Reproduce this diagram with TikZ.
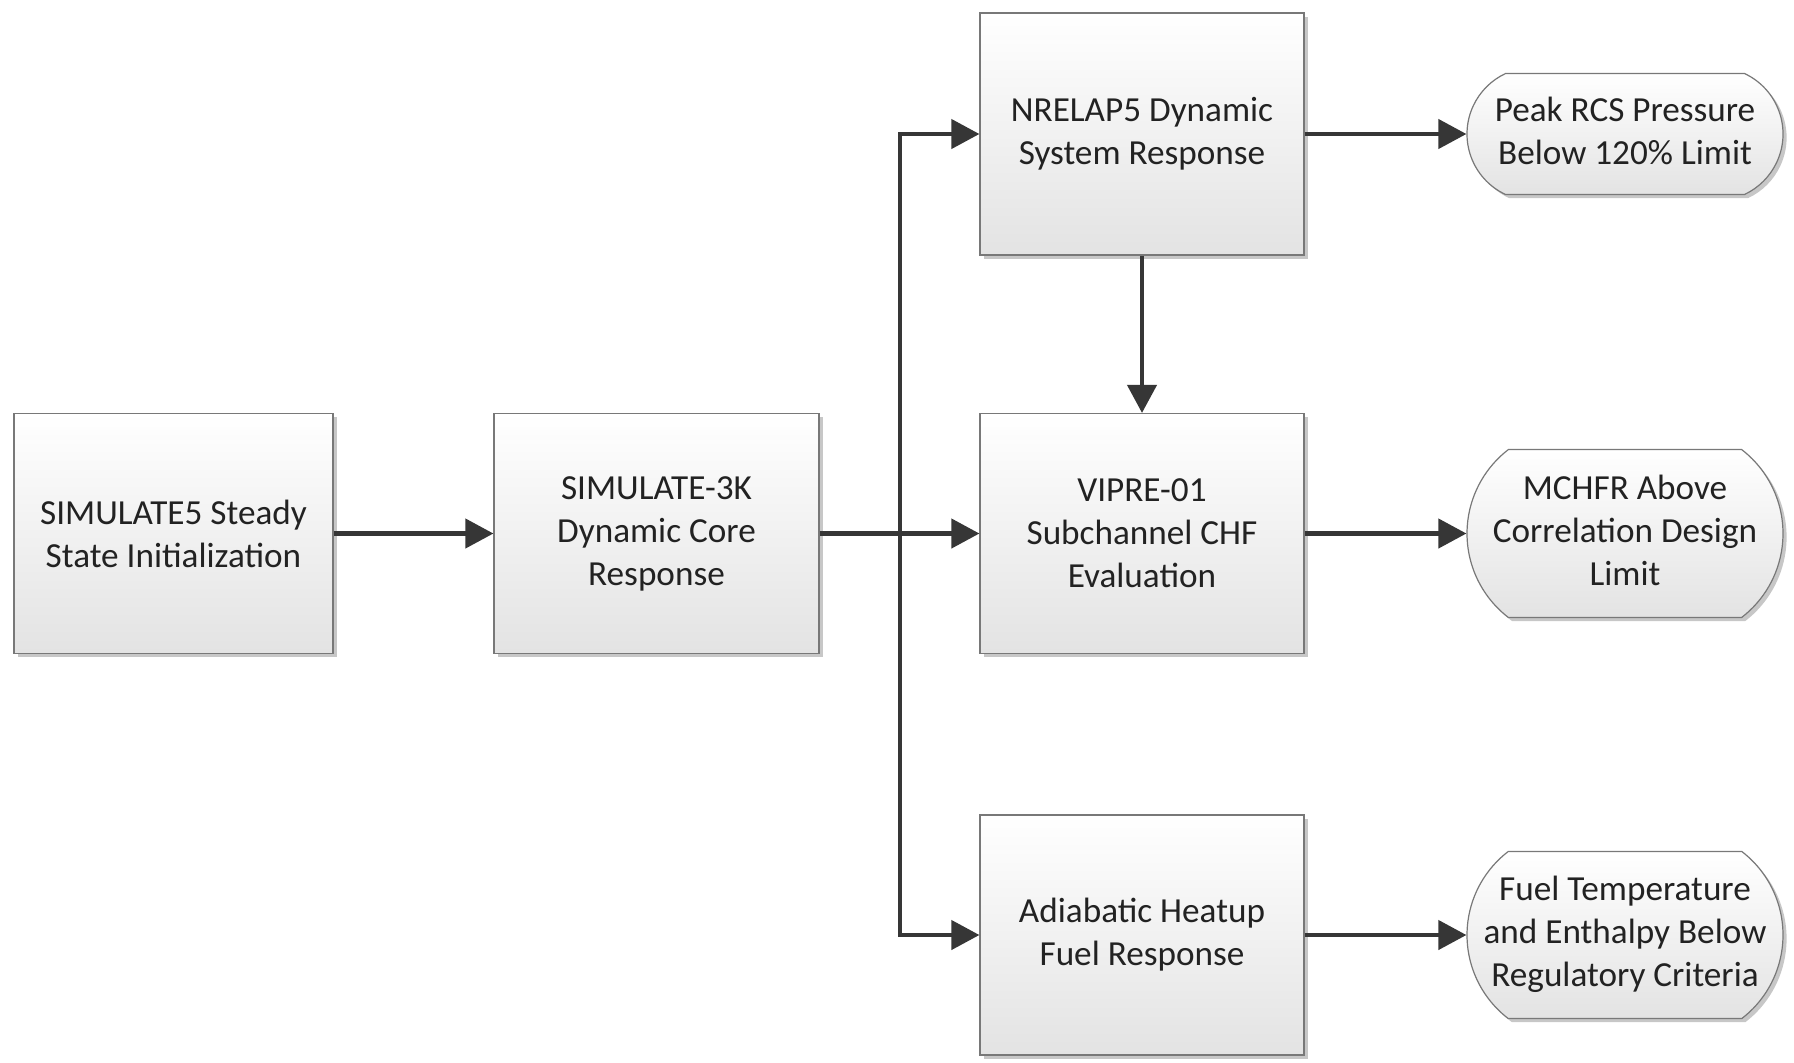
\documentclass[tikz,border=0pt]{standalone}
\usepackage{fontspec}
\setmainfont{Carlito}
\usetikzlibrary{arrows.meta,shapes.misc,shadows}
\definecolor{arrowc}{HTML}{363636}
\definecolor{textc}{HTML}{222222}
\definecolor{edgec}{HTML}{787878}
\begin{document}
\begin{tikzpicture}[x=0.5pt,y=-0.5pt,
  font=\fontsize{17.6}{21.5}\selectfont, text=textc,
  box/.style={draw=edgec, line width=0.6pt, top color=white, bottom color=black!11,
    drop shadow={shadow xshift=1.8pt,shadow yshift=-1.8pt,fill=black,opacity=0.22},
    minimum width=162pt, minimum height=120pt, align=center, inner sep=0pt},
  goal/.style={rounded rectangle, draw=edgec, line width=0.6pt, top color=white, bottom color=black!11,
    drop shadow={shadow xshift=1.8pt,shadow yshift=-1.8pt,fill=black,opacity=0.22},
    minimum width=158pt, inner sep=0pt},
  arr/.style={draw=arrowc, line width=2.1pt, -{Triangle[length=14pt,width=14.5pt]}}]
\useasboundingbox (0,0) rectangle (1794,1062);
\fill[white] (0,0) rectangle (1794,1062);

\node[box, minimum width=159.5pt] (b1) at (173.5,533.5) {SIMULATE5 Steady\\State Initialization};
\node[box, minimum width=162.5pt] (b2) at (656.5,533.5) {SIMULATE-3K\\Dynamic Core\\Response};
\node[box, minimum height=121pt] (b3) at (1142,134) {NRELAP5 Dynamic\\System Response};
\node[box] (b4) at (1142,533.5) {VIPRE-01\\Subchannel CHF\\Evaluation};
\node[box] (b5) at (1142,935) {Adiabatic Heatup\\Fuel Response};

\node[goal, minimum height=60.5pt, rounded rectangle arc length=130] (g1) at (1625,134)
  {\makebox[0pt]{\begin{tabular}{@{}c@{}}Peak RCS Pressure\\Below 120\% Limit\end{tabular}}};
\node[goal, minimum height=84pt, rounded rectangle arc length=105] (g2) at (1625,533.5)
  {\makebox[0pt]{\begin{tabular}{@{}c@{}}MCHFR Above\\Correlation Design\\Limit\end{tabular}}};
\node[goal, minimum height=83.5pt, rounded rectangle arc length=105] (g3) at (1625,935)
  {\makebox[0pt]{\begin{tabular}{@{}c@{}}Fuel Temperature\\and Enthalpy Below\\Regulatory Criteria\end{tabular}}};

\coordinate (j) at (900,533.5);
\draw[arr] (b1.east) -- (b2.west);
\draw[arr] (b2.east) -- (b4.west);
\draw[arr] (j) |- (b3.west);
\draw[arr] (j) |- (b5.west);
\draw[arr] (b3.south) -- (b4.north);
\draw[arr] (b3.east) -- (g1.west);
\draw[arr] (b4.east) -- (g2.west);
\draw[arr] (b5.east) -- (g3.west);
\end{tikzpicture}
\end{document}
